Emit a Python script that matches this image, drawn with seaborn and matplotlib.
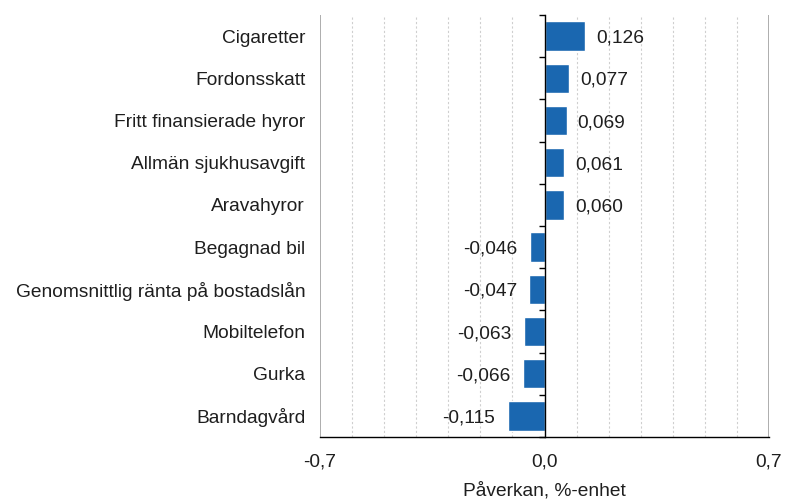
import matplotlib
matplotlib.use("Agg")
import matplotlib.pyplot as plt
import matplotlib.transforms as mtransforms
import seaborn as sns
import pandas as pd
import numpy as np

categories = ["Cigaretter", "Fordonsskatt", "Fritt finansierade hyror", "Allmän sjukhusavgift",
              "Aravahyror", "Begagnad bil", "Genomsnittlig ränta på bostadslån",
              "Mobiltelefon", "Gurka", "Barndagvård"]
values = [0.126, 0.077, 0.069, 0.061, 0.060, -0.046, -0.047, -0.063, -0.066, -0.115]
x_ticks = [-0.7, 0.0, 0.7]
x_tick_labels = ["-0,7", "0,0", "0,7"]
x_label = "Påverkan, %-enhet"

sns.set_theme(style="white")
plt.rcParams['font.family'] = ['Liberation Sans', 'DejaVu Sans']

FS = 13.8
TXT = "#1e1e1e"

df = pd.DataFrame({"cat": categories, "val": values})

fig = plt.figure(figsize=(7.87, 5.01), dpi=100)
ax = fig.add_axes([320/787, 1-437/501, (769-320)/787, (437-15)/501])

sns.barplot(data=df, x="val", y="cat", orient="h", color="#1a67b0",
            saturation=1, width=0.7, ax=ax, zorder=3)

ax.set_xlim(-0.7, 0.7)
ax.set_ylim(len(categories)-0.5, -0.5)

# grid
ax.set_xticks(x_ticks)
ax.set_xticklabels(x_tick_labels, fontsize=FS, color=TXT)
minor = [round(v, 1) for v in np.arange(-0.6, 0.7, 0.1) if abs(round(v, 1)) > 1e-9]
ax.set_xticks(minor, minor=True)
ax.grid(False)
ax.grid(True, which="minor", axis="x", linestyle=(0, (2, 2)), color="#cfcfcf", linewidth=0.8, zorder=0)
ax.axvline(-0.7, color="#a0a0a0", linewidth=1.2, zorder=1)
ax.axvline(0.7, color="#a0a0a0", linewidth=1.2, zorder=1)

ax.tick_params(axis="x", which="major", direction="out", length=5, width=1, color="black", pad=7)
ax.tick_params(axis="x", which="minor", length=0)

# y-axis spine at zero with boundary ticks
for s in ["top", "right"]:
    ax.spines[s].set_visible(False)
ax.spines["left"].set_position(("data", 0))
ax.spines["left"].set_color("black")
ax.spines["left"].set_linewidth(1)
ax.spines["left"].set_zorder(4)
ax.spines["bottom"].set_color("black")
ax.spines["bottom"].set_linewidth(1)
ax.set_yticks(range(len(categories)))
ax.set_yticklabels([])
ax.set_yticks(np.arange(-0.5, len(categories), 1), minor=True)
ax.tick_params(axis="y", which="major", length=0)
ax.tick_params(axis="y", which="minor", direction="out", length=4, width=1, color="black", left=True)

trans = mtransforms.blended_transform_factory(ax.transAxes, ax.transData)
for i, c in enumerate(categories):
    ax.annotate(c, (-0.033, i), xycoords=trans, xytext=(0, -1.5), textcoords="offset points",
                ha="right", va="center", fontsize=FS, color=TXT)

for i, v in enumerate(values):
    lab = f"{v:.3f}".replace(".", ",")
    if v >= 0:
        ax.annotate(lab, (v, i), xytext=(8, -1.5), textcoords="offset points",
                    ha="left", va="center", fontsize=FS, color=TXT, zorder=5)
    else:
        ax.annotate(lab, (v, i), xytext=(-9, -1.5), textcoords="offset points",
                    ha="right", va="center", fontsize=FS, color=TXT, zorder=5)

ax.set_xlabel(x_label, fontsize=FS, color=TXT, labelpad=8)
ax.set_ylabel("")

fig.savefig("out.png", dpi=100)
